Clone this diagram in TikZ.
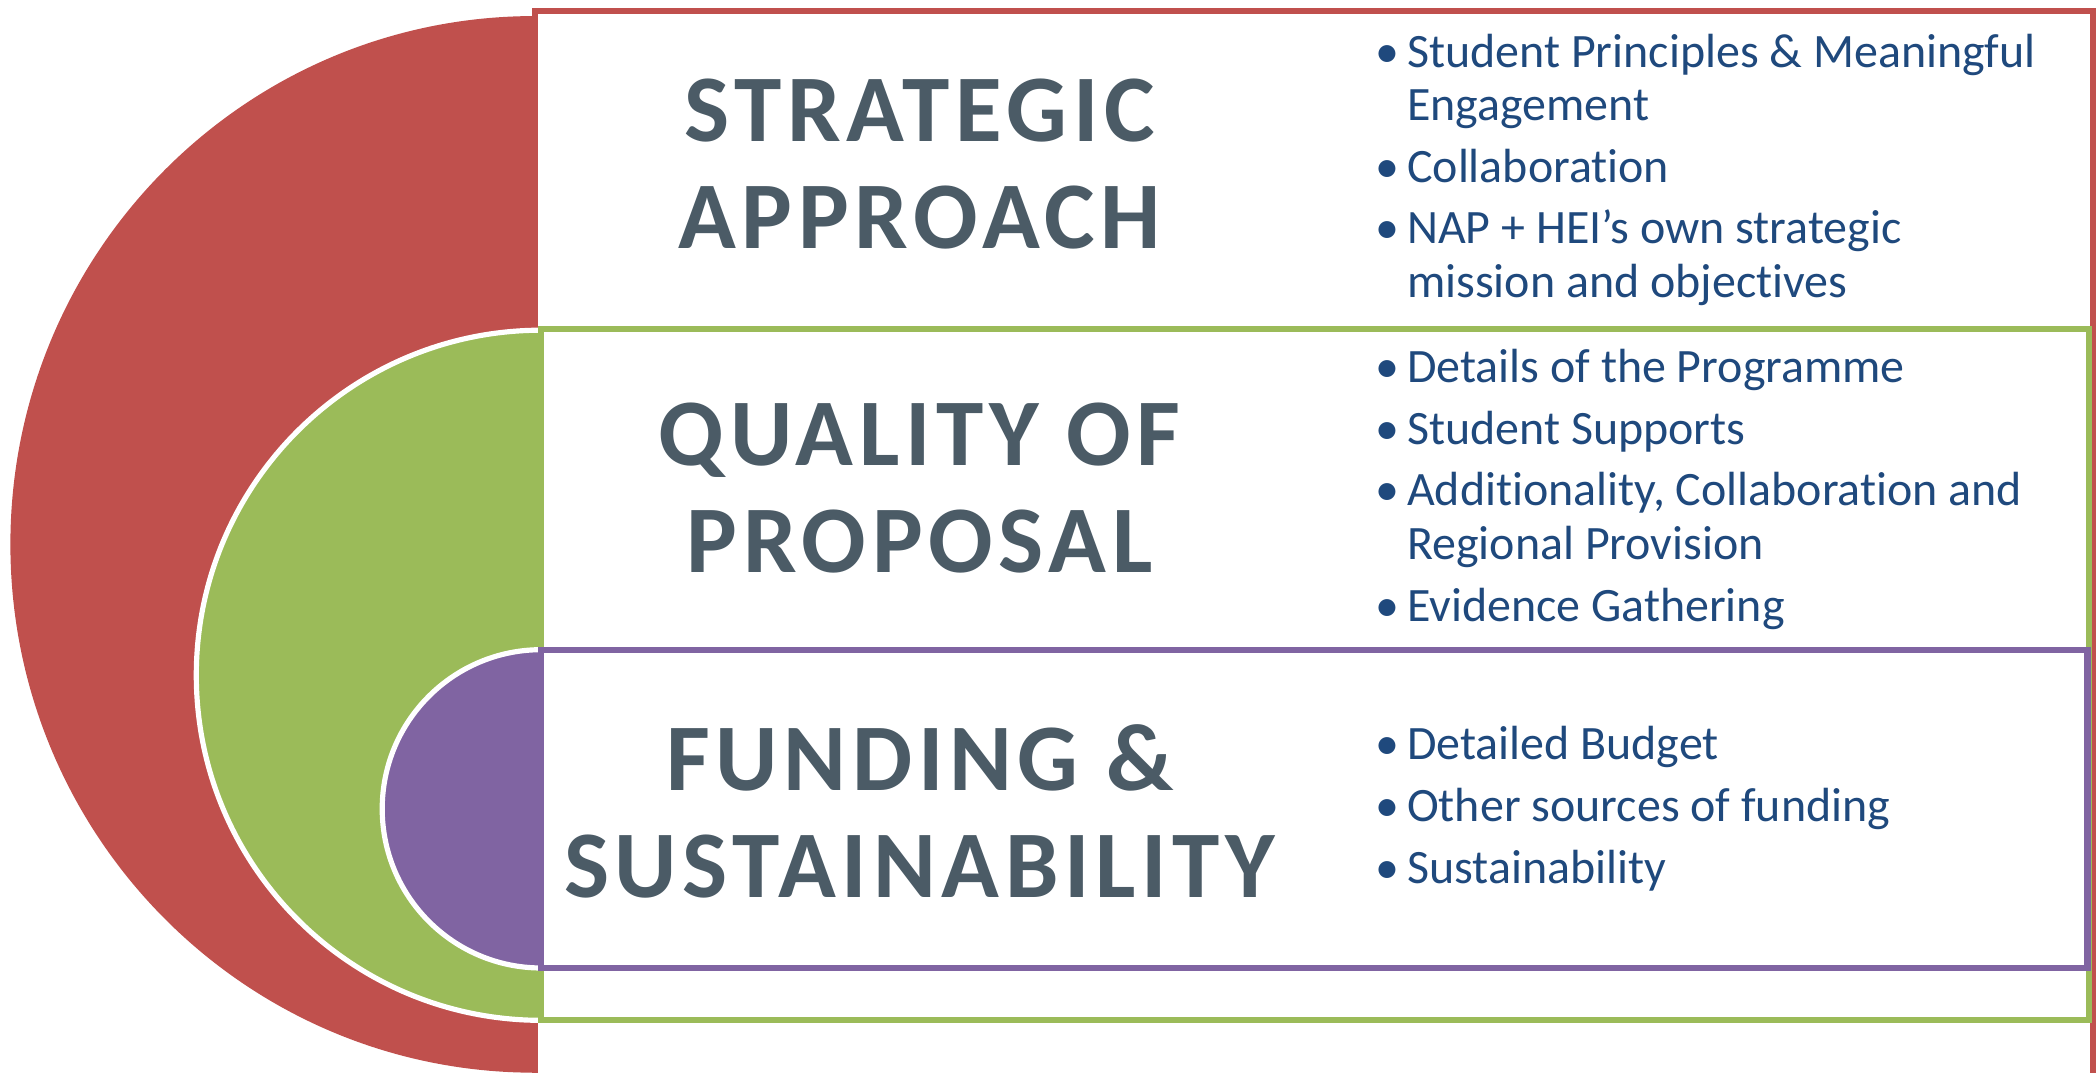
\documentclass[tikz,border=0pt]{standalone}
\usepackage{fontspec}
\setmainfont[Ligatures=NoCommon]{Carlito}
\newfontfamily\headfont[LetterSpace=6,Ligatures=NoCommon]{Carlito}

\definecolor{tgtred}{HTML}{C0504D}
\definecolor{tgtgreen}{HTML}{9BBB59}
\definecolor{tgtpurple}{HTML}{8064A2}
\definecolor{headgrey}{HTML}{4B5B66}
\definecolor{itemblue}{HTML}{1F497D}

\tikzset{
  frame/.style={draw=#1, line width=1.3pt, fill=white, anchor=north west, inner sep=0pt, outer sep=0pt},
  heading/.style={text=headgrey, font=\headfont\bfseries\fontsize{20.3}{22.8}\selectfont, align=center, inner sep=0pt},
  points/.style={text=itemblue, font=\fontsize{10.2}{11.4}\selectfont, align=left, anchor=west, inner sep=0pt},
}
\newcommand{\pnt}[1]{\makebox[0.24cm][l]{\textbullet}#1}

\begin{document}
\begin{tikzpicture}[x=0.01cm,y=-0.01cm]
  \useasboundingbox (0,0) rectangle (1568,802);

  %Strategic approach
  \fill[tgtred] (400,12) arc[start angle=90, end angle=270, x radius=3.92cm, y radius=3.95cm] -- cycle;
  \node[frame=tgtred, minimum width=11.65cm, minimum height=7.98cm] (redbox) at (400,8) {};

  %Quality of proposal
  \filldraw[fill=tgtgreen, draw=white, line width=1.1pt] (405,247) arc[start angle=90, end angle=270, radius=2.58cm] -- cycle;
  \node[frame=tgtgreen, minimum width=11.57cm, minimum height=5.17cm] (greenbox) at (405,246) {};

  %Funding and sustainability
  \filldraw[fill=tgtpurple, draw=white, line width=1.1pt] (405,486) arc[start angle=90, end angle=270, radius=1.19cm] -- cycle;
  \node[frame=tgtpurple, minimum width=11.56cm, minimum height=2.38cm] (purplebox) at (405,486) {};

  %Headings
  \node[heading] (strat) at (688,123) {STRATEGIC\\APPROACH};
  \node[heading] (quality) at (688,365) {QUALITY OF\\PROPOSAL};
  \node[heading] (funding) at (688,607) {FUNDING \&\\SUSTAINABILITY};

  %Points
  \node[points] (stratpts) at (1028,127) {\pnt{Student Principles \& Meaningful}\\\hspace*{0.24cm}Engagement\\[0.06cm]\pnt{Collaboration}\\[0.06cm]\pnt{NAP + HEI’s own strategic}\\\hspace*{0.24cm}mission and objectives};
  \node[points] (qualpts) at (1028,366) {\pnt{Details of the Programme}\\[0.06cm]\pnt{Student Supports}\\[0.06cm]\pnt{Additionality, Collaboration and}\\\hspace*{0.24cm}Regional Provision\\[0.06cm]\pnt{Evidence Gathering}};
  \node[points] (fundpts) at (1028,605) {\pnt{Detailed Budget}\\[0.06cm]\pnt{Other sources of funding}\\[0.06cm]\pnt{Sustainability}};
\end{tikzpicture}
\end{document}
